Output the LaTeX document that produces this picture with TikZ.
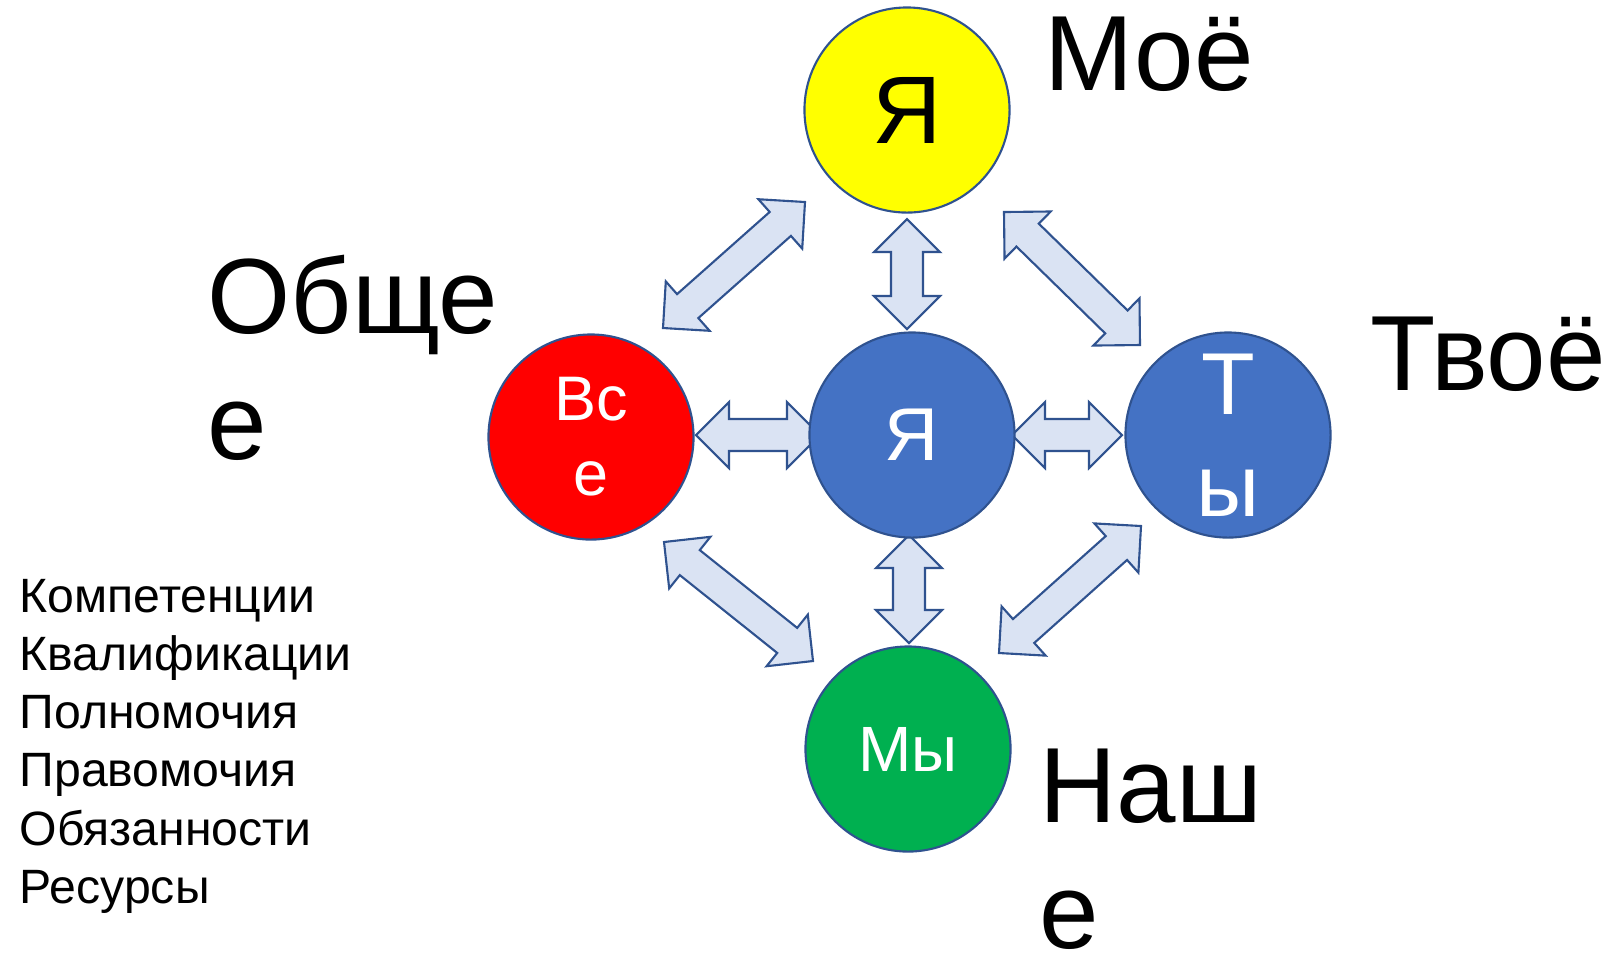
\documentclass[tikz,border=0pt]{standalone}
\usepackage{fontspec}
\setmainfont{Liberation Sans}
\usetikzlibrary{calc}
\definecolor{arrfill}{HTML}{DAE3F3}
\definecolor{edgeblue}{HTML}{2F528F}
\definecolor{myyellow}{HTML}{FFFF00}
\definecolor{myred}{HTML}{FF0000}
\definecolor{myblue}{HTML}{4472C4}
\definecolor{mygreen}{HTML}{00B050}
\tikzset{
  blockarrow/.style={draw=edgeblue, fill=arrfill, line width=0.6pt, line join=miter},
  bubble/.style={circle, draw=edgeblue, line width=0.6pt, minimum size=2.05cm, inner sep=0pt, align=center},
  biglabel/.style={anchor=base west, inner sep=0pt, align=left, font=\fontsize{30.4pt}{35.6pt}\selectfont},
  listlabel/.style={anchor=base west, inner sep=0pt, align=left, font=\fontsize{13.7pt}{16.5pt}\selectfont}
}
\newcommand\blockarr[2]{%
  \draw[blockarrow] (#1)
    -- ($(#1)!0.33cm!(#2)!0.33cm!90:(#2)$)
    -- ($(#1)!0.33cm!(#2)!0.16cm!90:(#2)$)
    -- ($(#2)!0.33cm!(#1)!0.16cm!-90:(#1)$)
    -- ($(#2)!0.33cm!(#1)!0.33cm!-90:(#1)$)
    -- (#2)
    -- ($(#2)!0.33cm!(#1)!0.33cm!90:(#1)$)
    -- ($(#2)!0.33cm!(#1)!0.16cm!90:(#1)$)
    -- ($(#1)!0.33cm!(#2)!0.16cm!-90:(#2)$)
    -- ($(#1)!0.33cm!(#2)!0.33cm!-90:(#2)$)
    -- cycle;}
\begin{document}
\begin{tikzpicture}[x=0.01cm, y=-0.01cm]
\useasboundingbox[fill=white] (0,0) rectangle (1609,953);
% arrow end points
\coordinate (ylA) at (663,328);  \coordinate (ylB) at (805,202);
\coordinate (yrA) at (1004,212); \coordinate (yrB) at (1140,345);
\coordinate (blA) at (664,542);  \coordinate (blB) at (813,661);
\coordinate (brA) at (999,653);  \coordinate (brB) at (1141,526);
\coordinate (vtA) at (907,219);  \coordinate (vtB) at (907,329);
\coordinate (vbA) at (909,535);  \coordinate (vbB) at (909,643);
\coordinate (hlA) at (696,435);  \coordinate (hlB) at (820,435);
\coordinate (hrA) at (1012,435); \coordinate (hrB) at (1122,435);
% arrows
\blockarr{ylA}{ylB}
\blockarr{yrA}{yrB}
\blockarr{blA}{blB}
\blockarr{brA}{brB}
\blockarr{vtA}{vtB}
\blockarr{vbA}{vbB}
\blockarr{hlA}{hlB}
\blockarr{hrA}{hrB}
% circles
\node[bubble, fill=myyellow, text=black, font=\fontsize{27.3pt}{32pt}\selectfont] (ya) at (907,110) {Я};
\node[bubble, fill=myred, text=white, font=\fontsize{17.9pt}{21.3pt}\selectfont] (vse) at (591,437) {Вс\\е};
\node[bubble, fill=myblue, text=white, font=\fontsize{21.3pt}{25pt}\selectfont] (me) at (912,435) {Я};
\node[bubble, fill=myblue, text=white, font=\fontsize{25pt}{29pt}\selectfont] (ty) at (1228,435) {Т\\ы};
\node[bubble, fill=mygreen, text=white, font=\fontsize{18.2pt}{21.3pt}\selectfont] (my) at (908,749) {Мы};
% labels (base anchor = baseline of the last line)
\node[biglabel] (moe) at (1044,90) {Моё};
\node[biglabel] (tvoe) at (1370,390) {Твоё};
\node[biglabel] (obshee) at (207,459) {Обще\\е};
\node[biglabel] (nashe) at (1039,948) {Наш\\е};
\node[listlabel] (list) at (19,903) {Компетенции\\Квалификации\\Полномочия\\Правомочия\\Обязанности\\Ресурсы};
\end{tikzpicture}
\end{document}
